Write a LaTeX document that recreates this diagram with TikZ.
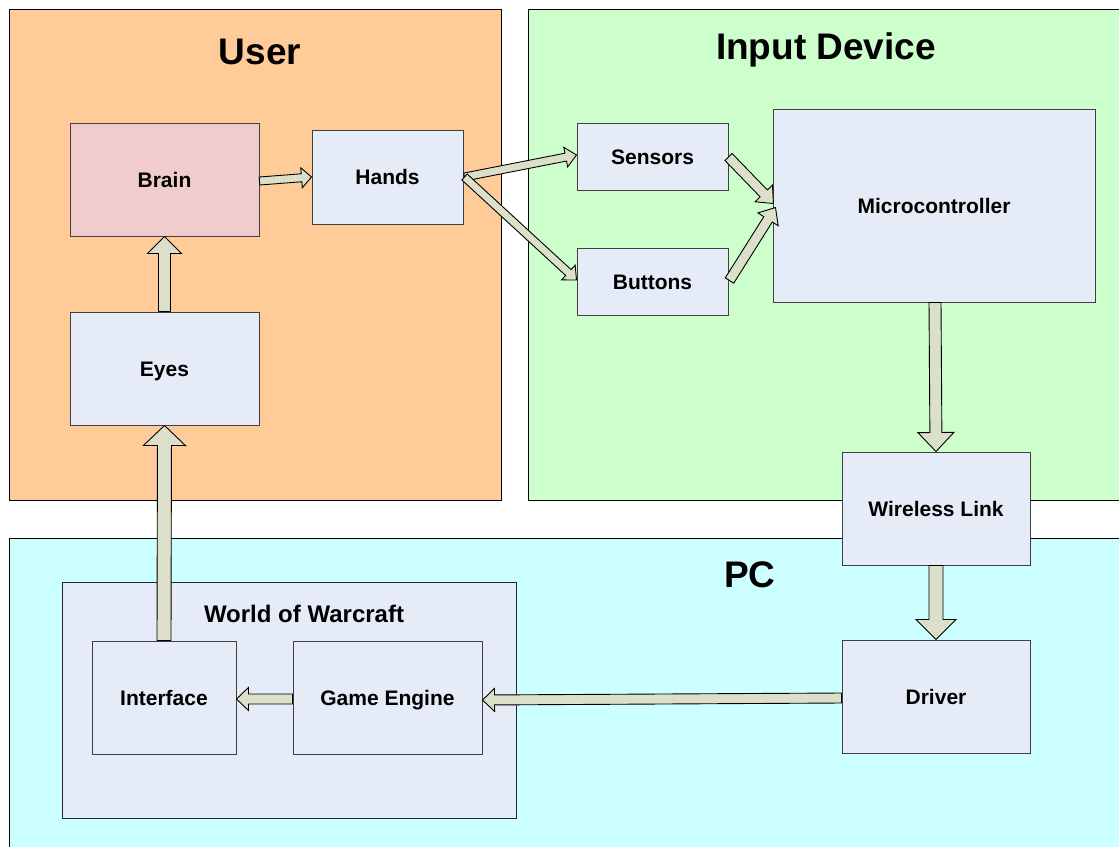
\documentclass[tikz,border=0pt]{standalone}
\usepackage{fontspec}
\setmainfont{Liberation Sans}
\usetikzlibrary{calc}
\definecolor{userc}{HTML}{FFCC99}
\definecolor{inputc}{HTML}{CCFFCC}
\definecolor{pcc}{HTML}{CCFFFF}
\definecolor{boxc}{HTML}{E6ECF7}
\definecolor{brainc}{HTML}{F0CCCC}
\definecolor{arrc}{HTML}{DCDFC9}
\newcommand{\blockarrow}[5]{%
  \coordinate (ba-a) at #1;
  \coordinate (ba-b) at #2;
  \coordinate (ba-h) at ($(ba-b)!#5!(ba-a)$);
  \draw[barrow] ($(ba-a)!#3!90:(ba-b)$) -- ($(ba-h)!#3!90:(ba-b)$) -- ($(ba-h)!#4!90:(ba-b)$)
    -- (ba-b) -- ($(ba-h)!#4!-90:(ba-b)$) -- ($(ba-h)!#3!-90:(ba-b)$) -- ($(ba-a)!#3!-90:(ba-b)$) -- cycle;
}
\tikzset{
  region/.style={draw=black, line width=0.9pt, anchor=north west, inner sep=0pt},
  title/.style={font=\bfseries\fontsize{37}{42}\selectfont, inner sep=0pt},
  box/.style={draw=black!75, line width=1pt, fill=boxc, inner sep=0pt,
    text height=15pt, text depth=0pt,
    font=\bfseries\fontsize{21}{24}\selectfont},
  barrow/.style={draw=black, line width=0.9pt, fill=arrc, line join=miter},
}
\begin{document}
\begin{tikzpicture}[x=1pt,y=-1pt]
\clip (0,0) rectangle (1119,846);
\fill[white] (0,0) rectangle (1119,846);
% regions
\node[region, fill=userc, minimum width=492pt, minimum height=491pt] (user) at (9,9) {};
\node[region, fill=inputc, minimum width=600pt, minimum height=491pt] (input) at (528,9) {};
\node[region, fill=pcc, minimum width=1120pt, minimum height=320pt] (pc) at (9,538) {};
\node[title] (tuser) at (260,52) {User};
\node[title] (tinput) at (826,50) {Input Device};
\node[title] (tpc) at (750,575) {PC};
% world of warcraft container
\node[draw=black!85, line width=0.9pt, fill=boxc, inner sep=0pt, minimum width=454pt, minimum height=236pt] (wow) at (289,700) {};
\node[font=\bfseries\fontsize{24}{28}\selectfont, inner sep=0pt] (twow) at (304,614) {World of Warcraft};
% boxes
\node[box, fill=brainc, minimum width=189pt, minimum height=113pt] (brain) at (164.5,179.5) {Brain};
\node[box, minimum width=151pt, minimum height=94pt] (hands) at (387.5,177) {Hands};
\node[box, minimum width=189pt, minimum height=113pt] (eyes) at (164.5,368.5) {Eyes};
\node[box, minimum width=151pt, minimum height=67pt] (sensors) at (652.5,156.5) {Sensors};
\node[box, minimum width=151pt, minimum height=67pt] (buttons) at (652.5,281.5) {Buttons};
\node[box, minimum width=322pt, minimum height=193pt] (micro) at (934,205.5) {Microcontroller};
\node[box, minimum width=188pt, minimum height=113pt] (wireless) at (936,508.5) {Wireless Link};
\node[box, minimum width=188pt, minimum height=113pt] (driver) at (936,696.5) {Driver};
\node[box, minimum width=144pt, minimum height=113pt] (interface) at (164,697.5) {Interface};
\node[box, minimum width=189pt, minimum height=113pt] (engine) at (387.5,697.5) {Game Engine};
% arrows
\blockarrow{($(brain.east)+(0,1.5)$)}{(hands.west)}{4pt}{10pt}{10pt}
\blockarrow{($(hands.east)+(1,0)$)}{($(sensors.west)+(0,-1.5)$)}{4pt}{10pt}{11pt}
\blockarrow{($(hands.east)+(1,0)$)}{($(buttons.west)+(0,-1.5)$)}{4pt}{10pt}{11pt}
\blockarrow{($(sensors.east)+(0,0.5)$)}{($(micro.west)+(1,-2)$)}{5pt}{12pt}{14pt}
\blockarrow{($(buttons.east)+(1,-1)$)}{($(micro.west)+(3,2)$)}{5pt}{12pt}{14pt}
\blockarrow{($(micro.south)+(1,0)$)}{(wireless.north)}{6pt}{18pt}{19pt}
\blockarrow{(wireless.south)}{(driver.north)}{7pt}{20pt}{20pt}
\blockarrow{($(driver.west)+(0,1.5)$)}{($(engine.east)+(0,2.5)$)}{5pt}{11.5pt}{12pt}
\blockarrow{($(engine.west)+(0,1.5)$)}{($(interface.east)+(0,1.5)$)}{5pt}{11.5pt}{12pt}
\blockarrow{(eyes.north)}{(brain.south)}{6pt}{17pt}{17pt}
\blockarrow{(interface.north)}{(eyes.south)}{7pt}{21pt}{20pt}
\end{tikzpicture}
\end{document}
